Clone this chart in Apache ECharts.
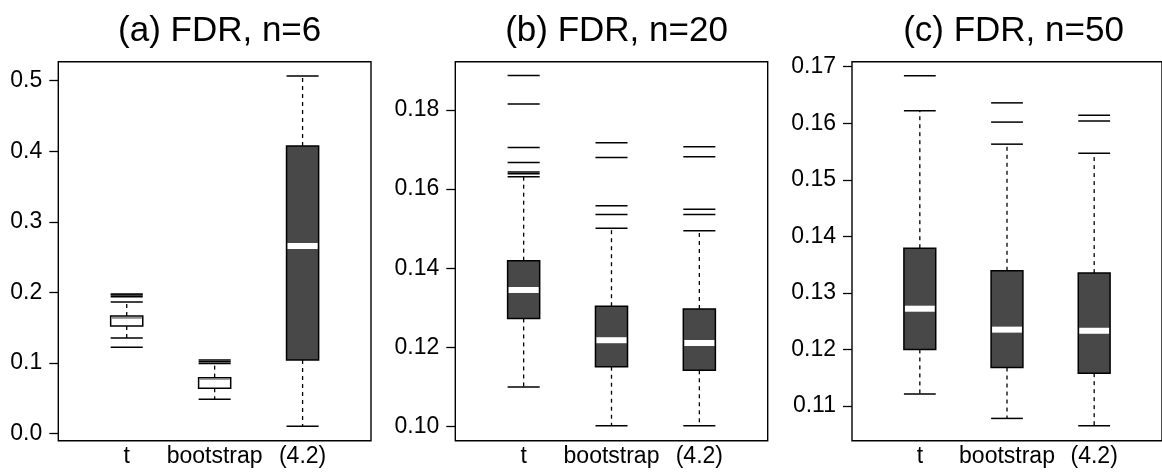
<!DOCTYPE html>
<html>
<head>
<meta charset="utf-8">
<script src="https://cdn.jsdelivr.net/npm/echarts@6/dist/echarts.min.js"></script>
<style>
  html, body { margin: 0; padding: 0; background: #fff; }
  #chart { width: 1162px; height: 472px; }
</style>
</head>
<body>
<div id="chart"></div>
<script>
const categories = ['t', 'bootstrap', '(4.2)'];

// each box: [lower whisker, Q1, median, Q3, upper whisker]
const boxesA = [
  [0.1356, 0.1525, 0.1640, 0.1667, 0.1865],
  [0.0487, 0.0644, 0.0775, 0.0794, 0.0996],
  [0.0105, 0.1044, 0.2659, 0.4075, 0.5067],
];
const outliersA = [
  [0.1224, 0.1940, 0.1965, 0.1980],
  [0.1020, 0.1044],
  [],
];

const boxesB = [
  [0.1100, 0.1273, 0.1345, 0.1419, 0.1631],
  [0.1002, 0.1151, 0.1218, 0.1304, 0.1501],
  [0.1002, 0.1142, 0.1211, 0.1297, 0.1495],
];
const outliersB = [
  [0.1887, 0.1815, 0.1705, 0.1667, 0.1643, 0.1639],
  [0.1717, 0.1680, 0.1558, 0.1536],
  [0.1707, 0.1682, 0.1549, 0.1536],
];

const boxesC = [
  [0.1121, 0.1200, 0.1272, 0.1379, 0.1622],
  [0.1078, 0.1168, 0.1235, 0.1339, 0.1563],
  [0.1065, 0.1158, 0.1233, 0.1335, 0.1547],
];
const outliersC = [
  [0.1684],
  [0.1636, 0.1602],
  [0.1614, 0.1604],
];

const ticksA = ['0.0', '0.1', '0.2', '0.3', '0.4', '0.5'];
const ticksB = ['0.10', '0.12', '0.14', '0.16', '0.18'];
const ticksC = ['0.11', '0.12', '0.13', '0.14', '0.15', '0.16', '0.17'];

const titles = ['(a) FDR, n=6', '(b) FDR, n=20', '(c) FDR, n=50'];

const FONT = '"Liberation Sans", Arial, Helvetica, sans-serif';
const DARK = '#484848';
const BOX_W = 0.365; // box width in x units

const panels = [
  { boxes: boxesA, outliers: outliersA, ticks: ticksA, left: 58.3, width: 312.7, min: -0.0099, max: 0.5269, fills: ['#fff', '#fff', DARK] },
  { boxes: boxesB, outliers: outliersB, ticks: ticksB, left: 455.3, width: 312.4, min: 0.0964, max: 0.1922, fills: [DARK, DARK, DARK] },
  { boxes: boxesC, outliers: outliersC, ticks: ticksC, left: 852, width: 313, min: 0.10386, max: 0.17088, fills: [DARK, DARK, DARK] },
];

function makeBoxRenderer(fills) {
  return function (params, api) {
    const x = api.value(0);
    const lo = api.coord([x, api.value(1)]);
    const q1 = api.coord([x, api.value(2)]);
    const md = api.coord([x, api.value(3)]);
    const q3 = api.coord([x, api.value(4)]);
    const hi = api.coord([x, api.value(5)]);
    const half = api.size([BOX_W, 0])[0] / 2;
    const cx = lo[0];
    const fill = fills[params.dataIndex];
    const white = fill === '#fff';
    const whisker = { stroke: '#000', lineWidth: 1.3, lineDash: [4, 4] };
    const solid = { stroke: '#000', lineWidth: 1.5 };
    return {
      type: 'group',
      children: [
        { type: 'line', shape: { x1: cx, y1: q3[1], x2: cx, y2: hi[1] }, style: whisker },
        { type: 'line', shape: { x1: cx, y1: q1[1], x2: cx, y2: lo[1] }, style: whisker },
        { type: 'line', shape: { x1: cx - half, y1: hi[1], x2: cx + half, y2: hi[1] }, style: solid },
        { type: 'line', shape: { x1: cx - half, y1: lo[1], x2: cx + half, y2: lo[1] }, style: solid },
        {
          type: 'rect',
          shape: { x: cx - half, y: q3[1], width: half * 2, height: q1[1] - q3[1] },
          style: { fill: fill, stroke: '#000', lineWidth: 1.5 },
        },
        {
          type: 'line',
          shape: { x1: cx - half + 1, y1: md[1], x2: cx + half - 1, y2: md[1] },
          style: white ? { stroke: '#777', lineWidth: 1.5 } : { stroke: '#fff', lineWidth: 6 },
        },
      ],
    };
  };
}

function renderOutlier(params, api) {
  const p = api.coord([api.value(0), api.value(1)]);
  const half = api.size([BOX_W, 0])[0] / 2;
  return {
    type: 'line',
    shape: { x1: p[0] - half, y1: p[1], x2: p[0] + half, y2: p[1] },
    style: { stroke: '#000', lineWidth: 1.5 },
  };
}

const labelFor = (ticks) => (v) => ticks.find((t) => Math.abs(Number(t) - v) < 1e-9) || '';

const option = {
  animation: false,
  backgroundColor: '#fff',
  title: panels.map((p, i) => ({
    text: titles[i],
    left: p.left + p.width / 2,
    top: 9,
    textAlign: 'center',
    textStyle: { fontSize: 35, fontWeight: 'normal', color: '#000', fontFamily: FONT },
  })),
  grid: panels.map((p) => ({
    left: p.left,
    top: 61.7,
    width: p.width,
    height: 379,
    show: true,
    borderColor: '#000',
    borderWidth: 1.4,
    backgroundColor: 'transparent',
  })),
  xAxis: panels.map((p, i) => ({
    type: 'value',
    gridIndex: i,
    min: 0.222,
    max: 3.778,
    axisLine: { show: false },
    axisTick: { show: false },
    splitLine: { show: false },
    axisLabel: {
      customValues: [1, 2, 3],
      formatter: (v) => categories[Math.round(v) - 1],
      fontSize: 23,
      color: '#000',
      fontFamily: FONT,
      margin: 4,
    },
  })),
  yAxis: panels.map((p, i) => ({
    type: 'value',
    gridIndex: i,
    min: p.min,
    max: p.max,
    axisLine: { show: false },
    splitLine: { show: false },
    axisTick: {
      show: true,
      customValues: p.ticks.map(Number),
      length: 9,
      lineStyle: { color: '#000', width: 1.3 },
    },
    axisLabel: {
      customValues: p.ticks.map(Number),
      formatter: labelFor(p.ticks),
      fontSize: 23,
      color: '#000',
      fontFamily: FONT,
      margin: 16,
    },
  })),
  series: panels.flatMap((p, i) => [
    {
      type: 'custom',
      xAxisIndex: i,
      yAxisIndex: i,
      renderItem: makeBoxRenderer(p.fills),
      encode: { x: 0, y: [1, 2, 3, 4, 5] },
      data: p.boxes.map((b, k) => [k + 1].concat(b)),
      z: 2,
    },
    {
      type: 'custom',
      xAxisIndex: i,
      yAxisIndex: i,
      renderItem: renderOutlier,
      encode: { x: 0, y: 1 },
      data: p.outliers.flatMap((list, k) => list.map((v) => [k + 1, v])),
      z: 3,
    },
  ]),
};

const chart = echarts.init(document.getElementById('chart'));
chart.setOption(option);
</script>
</body>
</html>
